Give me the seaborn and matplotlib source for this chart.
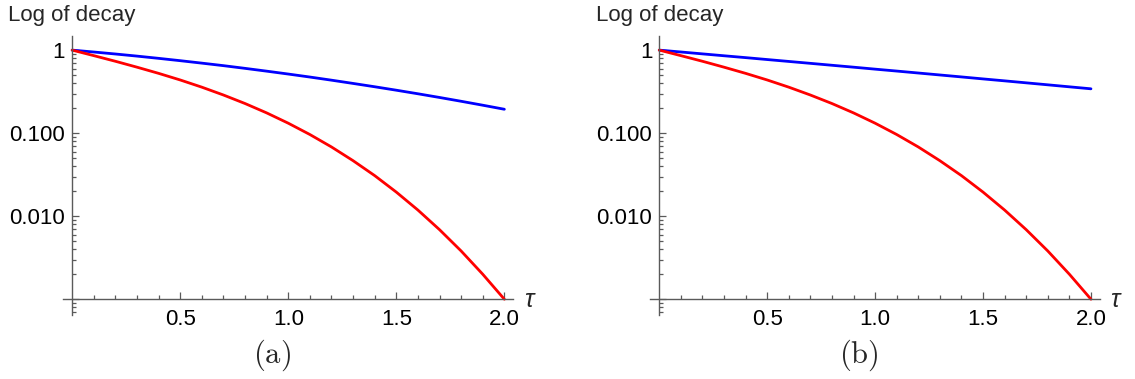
import numpy as np
import pandas as pd
import matplotlib
matplotlib.use("Agg")
import matplotlib.pyplot as plt
import seaborn as sns
from matplotlib.ticker import FixedLocator, NullFormatter, LogLocator

# ---- data ----
tau = [0.0, 0.1, 0.2, 0.3, 0.4, 0.5, 0.6, 0.7, 0.8, 0.9, 1.0,
       1.1, 1.2, 1.3, 1.4, 1.5, 1.6, 1.7, 1.8, 1.9, 2.0]

blue_a = [1.0, 0.949, 0.898, 0.847, 0.796, 0.746, 0.697, 0.650, 0.603, 0.558, 0.515,
          0.474, 0.4345, 0.397, 0.362, 0.329, 0.298, 0.269, 0.242, 0.217, 0.194]
red_a = [1.0, 0.858, 0.734, 0.623, 0.525, 0.437, 0.358, 0.288, 0.2274, 0.1754, 0.1318,
         0.0963, 0.0682, 0.0466, 0.0308, 0.0195, 0.01185, 0.00688, 0.00381, 0.0020, 0.0010]

blue_b = [1.0, 0.9495, 0.901, 0.855, 0.812, 0.770, 0.7305, 0.693, 0.657, 0.623, 0.590,
          0.5595, 0.530, 0.502, 0.4755, 0.450, 0.4264, 0.4036, 0.382, 0.3614, 0.342]
red_b = [1.0, 0.858, 0.734, 0.623, 0.525, 0.437, 0.358, 0.288, 0.2274, 0.1754, 0.1318,
         0.0963, 0.0682, 0.0466, 0.0308, 0.0195, 0.01185, 0.00688, 0.00381, 0.0020, 0.0010]

x_ticks = [0.5, 1.0, 1.5, 2.0]
x_tick_labels = ["0.5", "1.0", "1.5", "2.0"]
y_ticks = [0.001, 0.01, 0.1, 1.0]
y_tick_labels = ["", "0.010", "0.100", "1"]
x_minor = [0.1, 0.2, 0.3, 0.4, 0.6, 0.7, 0.8, 0.9, 1.1, 1.2, 1.3, 1.4, 1.6, 1.7, 1.8, 1.9]
panel_labels = ["(a)", "(b)"]
y_title = "Log of decay"
x_title = "τ"

sns.set_theme(style="white")
plt.rcParams["font.family"] = ["Liberation Sans", "DejaVu Sans"]
plt.rcParams["mathtext.fontset"] = "cm"

W, H = 1135, 379
fig = plt.figure(figsize=(W / 100, H / 100), dpi=100)

AX_GRAY = "#5a5a5a"
FS = 16


def make_axes(left_px, right_px, top_px=36, bottom_px=315):
    return fig.add_axes([left_px / W, 1 - bottom_px / H,
                         (right_px - left_px) / W, (bottom_px - top_px) / H])


def style(ax, label):
    ax.set_yscale("log")
    ax.set_xlim(-0.041, 2.04)
    ax.set_ylim(10 ** -3.19, 10 ** 0.17)
    ax.spines["top"].set_visible(False)
    ax.spines["right"].set_visible(False)
    ax.spines["left"].set_position(("data", 0))
    ax.spines["bottom"].set_position(("data", 0.001))
    for s in ["left", "bottom"]:
        ax.spines[s].set_color(AX_GRAY)
        ax.spines[s].set_linewidth(1.0)
    ax.xaxis.set_major_locator(FixedLocator(x_ticks))
    ax.set_xticklabels(x_tick_labels)
    ax.xaxis.set_minor_locator(FixedLocator(x_minor))
    ax.xaxis.set_minor_formatter(NullFormatter())
    ax.yaxis.set_major_locator(FixedLocator(y_ticks))
    ax.set_yticklabels(y_tick_labels)
    ax.yaxis.set_minor_locator(LogLocator(base=10, subs=np.arange(2, 10)))
    ax.yaxis.set_minor_formatter(NullFormatter())
    ax.tick_params(which="both", direction="in", color=AX_GRAY, width=0.9,
                   labelsize=FS, labelcolor="black")
    ax.tick_params(which="major", length=5)
    ax.tick_params(which="minor", length=2.6)
    ax.tick_params(axis="x", which="both", pad=7, bottom=True, top=False)
    ax.tick_params(axis="y", which="both", pad=5, left=True, right=False)
    ax.set_ylabel(y_title, rotation=0, fontsize=FS, ha="center", va="baseline")
    ax.yaxis.set_label_coords(0.041 / 2.081, (315 - 21) / 279)
    ax.set_xlabel(x_title, fontsize=FS + 2, style="italic", ha="center", va="center")
    ax.xaxis.set_label_coords((528.5 - 63.3) / 449.7, (315 - 300) / 279)
    ax.grid(False)
    ax.set_facecolor("white")


panels = [
    (63.3, 513.0, blue_a, red_a, panel_labels[0], 272),
    (650.4, 1099.6, blue_b, red_b, panel_labels[1], 859),
]
for left, right, blue, red, lab, lab_x in panels:
    ax = make_axes(left, right)
    df = pd.DataFrame({"tau": tau, "blue": blue, "red": red})
    sns.lineplot(data=df, x="tau", y="blue", ax=ax, color="#0000ff", lw=2.0, clip_on=True)
    sns.lineplot(data=df, x="tau", y="red", ax=ax, color="#ff0000", lw=2.0, clip_on=True)
    style(ax, lab)
    fig.text(lab_x / W, 1 - 355 / H, r"$\mathrm{" + lab + "}$", fontsize=22,
             ha="center", va="center")

fig.savefig("out.png", dpi=100, facecolor="white")
